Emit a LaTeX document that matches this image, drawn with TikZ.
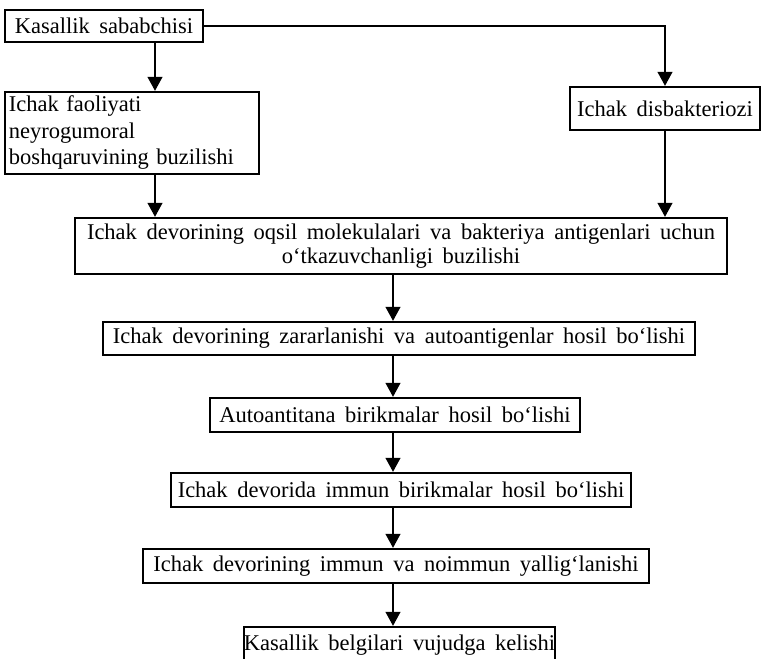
\documentclass[tikz,border=0pt]{standalone}
\usepackage{fontspec}
\setmainfont{Liberation Serif}[WordSpace=1.7]
\usetikzlibrary{arrows.meta}
\begin{document}
\begin{tikzpicture}[x=1pt,y=-1pt,
  every node/.style={font=\fontsize{22.5}{24.5}\selectfont},
  box/.style={draw, line width=2.4pt, inner sep=0pt, align=center, fill=white},
  arr/.style={line width=1.1pt, -{Triangle[width=15pt,length=14pt]}}]
\useasboundingbox (0,0) rectangle (761,659);
\fill[white] (0,0) rectangle (761,659);
\coordinate (xL) at (155,0);
\coordinate (xM) at (393,0);
\node[box, minimum width=198pt, minimum height=32pt] (b1) at (104,26) {Kasallik sababchisi};
\node[box, align=left, text width=246pt, inner xsep=4pt, minimum height=82pt, font=\fontsize{22.5}{26.5}\selectfont] (b2) at (132,133) {Ichak faoliyati\\neyrogumoral\\boshqaruvining buzilishi};
\node[box, minimum width=190pt, minimum height=43pt] (bd) at (665,108.5) {Ichak disbakteriozi};
\node[box, minimum width=652pt, minimum height=56pt] (b3) at (401,246) {Ichak devorining oqsil molekulalari va bakteriya antigenlari uchun\\o‘tkazuvchanligi buzilishi};
\node[box, minimum width=592pt, minimum height=33pt] (b4) at (399,338.5) {Ichak devorining zararlanishi va autoantigenlar hosil bo‘lishi};
\node[box, minimum width=370pt, minimum height=34pt] (b5) at (395,415) {Autoantitana birikmalar hosil bo‘lishi};
\node[box, minimum width=460pt, minimum height=34pt] (b6) at (401,490) {Ichak devorida immun birikmalar hosil bo‘lishi};
\node[box, minimum width=506pt, minimum height=34pt] (b7) at (396,566) {Ichak devorining immun va noimmun yallig‘lanishi};
\node[box, minimum width=307pt, minimum height=36pt] (b8) at (399.5,645) {Kasallik belgilari vujudga kelishi};
\draw[arr] (b1.south -| xL) -- (b2.north -| xL);
\draw[arr] (b1.east) -| (bd.north);
\draw[arr] (b2.south -| xL) -- (b3.north -| xL);
\draw[arr] (bd.south) -- (b3.north -| bd.south);
\draw[arr] (b3.south -| xM) -- (b4.north -| xM);
\draw[arr] (b4.south -| xM) -- (b5.north -| xM);
\draw[arr] (b5.south -| xM) -- (b6.north -| xM);
\draw[arr] (b6.south -| xM) -- (b7.north -| xM);
\draw[arr] (b7.south -| xM) -- (b8.north -| xM);
\end{tikzpicture}
\end{document}
